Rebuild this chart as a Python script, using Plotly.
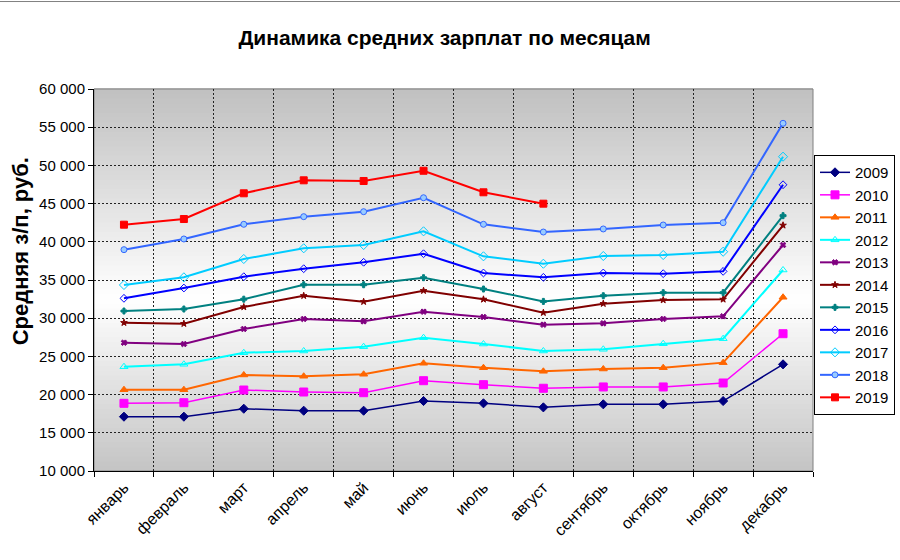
import plotly.graph_objects as go

months = ["январь", "февраль", "март", "апрель", "май", "июнь", "июль",
          "август", "сентябрь", "октябрь", "ноябрь", "декабрь"]

y2009 = [17110, 17110, 18150, 17890, 17890, 19160, 18860, 18330, 18730, 18730, 19160, 23960]
y2010 = [18860, 18940, 20600, 20340, 20250, 21820, 21300, 20830, 21000, 21000, 21520, 27970]
y2011 = [20640, 20640, 22570, 22400, 22660, 24100, 23520, 23050, 23350, 23520, 24180, 32740]
y2012 = [23650, 23970, 25480, 25710, 26270, 27450, 26620, 25710, 25930, 26660, 27320, 36310]
y2013 = [26790, 26620, 28590, 29900, 29590, 30850, 30160, 29150, 29330, 29900, 30250, 39580]
y2014 = [29410, 29280, 31470, 32940, 32160, 33600, 32470, 30720, 31900, 32380, 32470, 42160]
y2015 = [30940, 31200, 32490, 34380, 34380, 35300, 33820, 32200, 32940, 33340, 33340, 43420]
y2016 = [32600, 33950, 35430, 36480, 37320, 38440, 35920, 35350, 35920, 35830, 36130, 47470]
y2017 = [34350, 35350, 37750, 39150, 39580, 41370, 38100, 37130, 38140, 38270, 38700, 51140]
y2018 = [38970, 40370, 42290, 43290, 43940, 45770, 42290, 41280, 41680, 42200, 42500, 55510]
y2019 = [42240, 42980, 46350, 48050, 47960, 49300, 46480, 44990]

y_ticks = list(range(10000, 60001, 5000))
y_tick_labels = [f"{v:,}".replace(",", " ") for v in y_ticks]

series = [
    ("2009", y2009, "#000080", "#000080", "diamond", 7, 1.5, "#000080"),
    ("2010", y2010, "#FF00FF", "#FF00FF", "square", 8, 1.5, "#FF00FF"),
    ("2011", y2011, "#FF6600", "#FF6600", "triangle-up", 7, 2, "#FF6600"),
    ("2012", y2012, "#00FFFF", "#00FFFF", "triangle-up-open", 7, 2, "#00FFFF"),
    ("2013", y2013, "#800080", "#800080", "x", 5, 2, "#800080"),
    ("2014", y2014, "#800000", "#800000", "star", 5, 2, "#800000"),
    ("2015", y2015, "#008080", "#008080", "cross", 5, 2, "#008080"),
    ("2016", y2016, "#0000FF", "#0000FF", "diamond-open", 6, 2, "#0000FF"),
    ("2017", y2017, "#00CCFF", "#00CCFF", "diamond-open", 7, 2, "#00CCFF"),
    ("2018", y2018, "#3366FF", "#99CCFF", "circle", 6, 2, "#3366FF"),
    ("2019", y2019, "#FF0000", "#FF0000", "square", 7, 2, "#FF0000"),
]

FONT = "Liberation Sans, Arial, sans-serif"

fig = go.Figure()
for name, vals, lc, mfill, sym, msize, lw, mline in series:
    fig.add_trace(go.Scatter(
        x=months[:len(vals)], y=vals, name=name, mode="lines+markers",
        line=dict(color=lc, width=lw),
        marker=dict(symbol=sym, size=msize, color=mfill,
                    line=dict(color=mline, width=1)),
    ))

# gradient background of plot area (gray -> white -> gray)
shapes = []
n = 80
white_pos = 0.45
def shade(t):
    if t >= white_pos:
        f = (t - white_pos) / (1 - white_pos)
        lo = 255 - (255 - 192) * f
    else:
        f = (white_pos - t) / white_pos
        lo = 255 - (255 - 196) * f
    c = int(round(lo))
    return f"rgb({c},{c},{c})"
for i in range(n):
    y0 = i / n
    y1 = (i + 1) / n
    shapes.append(dict(type="rect", xref="x domain", yref="y domain",
                       x0=0, x1=1, y0=y0, y1=y1 + 0.002, layer="below",
                       line=dict(width=0), fillcolor=shade((y0 + y1) / 2)))
shapes.append(dict(type="rect", xref="x domain", yref="y domain",
                   x0=0, x1=1, y0=0, y1=1, layer="below",
                   line=dict(color="#808080", width=1), fillcolor="rgba(0,0,0,0)"))
shapes.append(dict(type="line", xref="paper", yref="paper", x0=-0.2, x1=1.2,
                   y0=1.229, y1=1.229, line=dict(color="#808080", width=1)))

fig.update_layout(
    width=900, height=560,
    margin=dict(l=94, r=87, t=89, b=89, autoexpand=False),
    paper_bgcolor="white", plot_bgcolor="rgba(0,0,0,0)",
    font=dict(family=FONT, size=15, color="black"),
    title=dict(text="<b>Динамика средних зарплат по месяцам</b>",
               x=0.494, xanchor="center", y=0.932, yanchor="middle",
               font=dict(size=21, family=FONT, color="black")),
    shapes=shapes,
    showlegend=True,
    legend=dict(x=1.0014, xanchor="left", y=0.827, yanchor="top",
                bordercolor="black", borderwidth=1, bgcolor="white",
                font=dict(size=15, family=FONT), tracegroupgap=0,
                itemwidth=30),
    annotations=[dict(text="<b>Средняя з/п, руб.</b>", textangle=-90,
                      xref="paper", yref="paper", x=-0.103, y=0.575,
                      xanchor="center", yanchor="middle", showarrow=False,
                      font=dict(size=22, family=FONT, color="black"))],
)

fig.update_xaxes(
    type="category", tickson="boundaries", ticks="outside", ticklen=5,
    tickcolor="black", showline=True, linecolor="black", linewidth=1,
    showgrid=True, gridcolor="#222222", griddash="2px,2px", gridwidth=1,
    tickangle=-45, tickfont=dict(size=16, family=FONT, color="black"),
    range=[-0.5, 11.5], zeroline=False, automargin=False,
)
fig.update_yaxes(
    range=[10000, 60000], tickvals=y_ticks, ticktext=y_tick_labels,
    ticks="outside", ticklen=5, tickcolor="black",
    showline=True, linecolor="black", linewidth=1,
    showgrid=True, gridcolor="#222222", griddash="2px,2px", gridwidth=1,
    tickfont=dict(size=15, family=FONT, color="black"), zeroline=False,
    automargin=False,
)

fig.write_html("out.html", config={"displayModeBar": False},
               post_script="document.body.style.margin='0';document.body.style.padding='0';")
